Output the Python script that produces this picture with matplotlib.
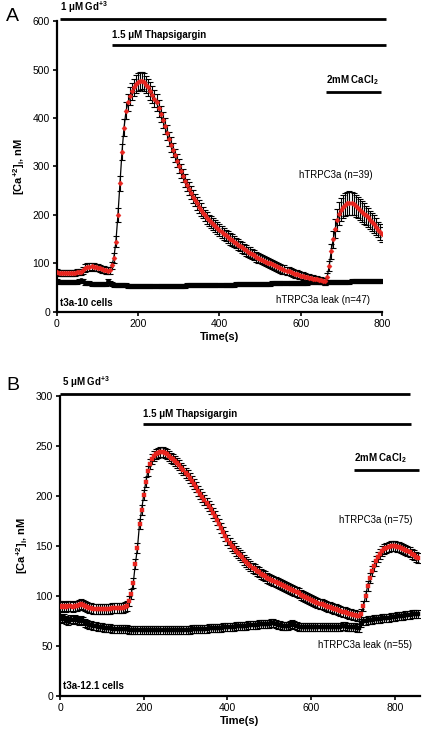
import numpy as np
import matplotlib.pyplot as plt

plt.rcParams['font.family'] = ['Liberation Sans', 'DejaVu Sans']
plt.rcParams['mathtext.fontset'] = 'custom'
plt.rcParams['mathtext.rm'] = 'Liberation Sans'
plt.rcParams['mathtext.bf'] = 'Liberation Sans:bold'
plt.rcParams['mathtext.it'] = 'Liberation Sans:italic'

# ---- Panel A data (5 s sampling, 0..800 s) ----
tA = np.arange(0, 805, 5)
trpc_A = [82, 81, 81, 80, 80, 81, 80, 80, 81, 81,
          82, 82, 83, 86, 90, 93, 93, 94, 93, 92,
          91, 90, 88, 87, 86, 85, 86, 96, 112, 145,
          200, 265, 330, 380, 415, 432, 445, 455, 463, 470,
          474, 476, 477, 474, 469, 463, 456, 448, 440, 432,
          420, 408, 396, 383, 370, 357, 345, 334, 323, 312,
          301, 291, 281, 271, 262, 254, 246, 238, 231, 224,
          217, 211, 205, 199, 194, 189, 185, 181, 177, 173,
          169, 165, 161, 158, 154, 151, 148, 145, 142, 139,
          136, 133, 130, 127, 124, 122, 119, 117, 114, 112,
          110, 108, 106, 104, 102, 100, 98, 96, 94, 92,
          90, 88, 87, 85, 84, 82, 81, 79, 78, 77,
          75, 74, 73, 72, 71, 70, 69, 68, 67, 66,
          65, 64, 63, 72, 95, 125, 150, 172, 190, 203,
          211, 217, 221, 224, 225, 224, 222, 219, 215, 211,
          207, 203, 199, 195, 190, 186, 181, 176, 170, 165,
          160]
trpc_A_err = [6, 6, 6, 6, 6, 6, 6, 6, 6, 6,
              6, 6, 6, 7, 8, 8, 8, 8, 8, 7,
              7, 7, 7, 7, 7, 7, 7, 8, 10, 12,
              14, 16, 17, 18, 18, 18, 18, 18, 18, 18,
              18, 18, 18, 18, 18, 18, 18, 17, 17, 17,
              17, 16, 16, 16, 15, 15, 15, 15, 14, 14,
              14, 14, 14, 14, 13, 13, 13, 13, 13, 13,
              13, 13, 12, 12, 12, 12, 12, 12, 12, 12,
              12, 12, 12, 12, 12, 12, 12, 11, 11, 11,
              11, 11, 11, 11, 11, 11, 10, 10, 10, 10,
              10, 10, 10, 10, 9, 9, 9, 9, 9, 9,
              9, 9, 9, 8, 8, 8, 8, 8, 8, 8,
              8, 8, 7, 7, 7, 7, 7, 7, 7, 7,
              7, 7, 7, 8, 11, 15, 18, 20, 22, 23,
              24, 24, 24, 24, 24, 24, 23, 23, 22, 22,
              21, 21, 20, 20, 19, 19, 18, 17, 16, 16,
              15]
leak_A = [63, 62, 62, 61, 61, 62, 61, 61, 61, 61,
          62, 63, 65, 63, 60, 59, 59, 58, 58, 58,
          58, 57, 57, 57, 58, 63, 60, 57, 56, 56,
          55, 55, 55, 55, 55, 54, 54, 54, 54, 54,
          54, 54, 54, 54, 54, 54, 54, 54, 54, 54,
          54, 54, 54, 54, 54, 54, 54, 54, 54, 54,
          54, 54, 54, 54, 55, 55, 55, 55, 55, 55,
          55, 55, 55, 55, 55, 55, 55, 55, 55, 56,
          56, 56, 56, 56, 56, 56, 56, 56, 57, 57,
          57, 57, 57, 57, 57, 57, 57, 58, 58, 58,
          58, 58, 58, 58, 58, 58, 59, 59, 59, 59,
          59, 59, 59, 59, 59, 60, 60, 60, 60, 60,
          60, 60, 60, 60, 61, 61, 61, 61, 61, 61,
          61, 61, 60, 62, 61, 61, 62, 62, 62, 62,
          62, 62, 62, 62, 62, 63, 63, 63, 63, 63,
          63, 63, 63, 63, 63, 64, 64, 64, 64, 64,
          64]
leak_A_err = 4

# ---- Panel B data (5 s sampling, 0..855 s) ----
tB = np.arange(0, 860, 5)
trpc_B = [90, 89, 90, 89, 90, 90, 89, 90, 90, 91,
          92, 91, 90, 89, 88, 88, 87, 87, 87, 87,
          87, 87, 87, 87, 87, 88, 88, 88, 88, 88,
          88, 89, 90, 95, 102, 113, 132, 148, 172, 186,
          201, 214, 225, 232, 237, 240, 242, 243, 244, 244,
          243, 242, 240, 238, 237, 235, 233, 231, 228, 226,
          223, 221, 218, 215, 212, 209, 205, 202, 199, 196,
          193, 190, 187, 183, 180, 176, 172, 168, 164, 160,
          156, 153, 150, 148, 145, 143, 141, 139, 136, 134,
          132, 130, 128, 127, 125, 124, 122, 121, 120, 118,
          117, 116, 115, 114, 113, 112, 111, 110, 109, 108,
          107, 106, 105, 104, 103, 101, 100, 99, 98, 97,
          96, 95, 94, 93, 92, 92, 91, 90, 89, 89,
          88, 87, 87, 86, 85, 84, 84, 83, 82, 82,
          81, 81, 80, 80, 82, 90, 100, 110, 118, 125,
          130, 135, 139, 142, 145, 147, 148, 149, 150, 150,
          150, 149, 149, 148, 147, 146, 145, 144, 142, 141,
          139, 138]
trpc_B_err = 5
leak_B = [78, 77, 78, 76, 75, 77, 76, 77, 76, 75,
          76, 75, 73, 72, 71, 71, 70, 70, 69, 69,
          69, 68, 68, 68, 68, 67, 67, 67, 67, 67,
          67, 67, 67, 66, 66, 66, 66, 66, 66, 66,
          66, 66, 66, 66, 66, 66, 66, 66, 66, 66,
          66, 66, 66, 66, 66, 66, 66, 66, 66, 66,
          66, 66, 66, 67, 67, 67, 67, 67, 67, 67,
          67, 68, 68, 68, 68, 68, 68, 68, 69, 69,
          69, 69, 69, 69, 70, 70, 70, 70, 70, 70,
          71, 71, 71, 71, 71, 72, 72, 72, 72, 72,
          72, 73, 73, 72, 71, 71, 70, 70, 70, 70,
          71, 72, 71, 70, 69, 69, 69, 69, 69, 69,
          69, 69, 69, 69, 69, 69, 69, 69, 69, 69,
          69, 69, 69, 69, 69, 70, 70, 69, 69, 69,
          69, 69, 68, 68, 73, 75, 75, 76, 76, 76,
          77, 77, 77, 77, 78, 78, 78, 78, 79, 79,
          79, 80, 80, 80, 80, 81, 81, 81, 82, 82,
          82, 82]
leak_B_err = 4

fig = plt.figure(figsize=(4.25, 7.32), dpi=100)

ylab = '[Ca$^{\\mathbf{{+}2}}$]$_{\\mathbf{i}}$, nM'


def style_axes(ax):
    for s in ['top', 'right']:
        ax.spines[s].set_visible(False)
    for s in ['left', 'bottom']:
        ax.spines[s].set_linewidth(1.6)
    ax.tick_params(direction='out', length=3, width=1.2, labelsize=7.5, pad=2)


def draw_trace(ax, t, y, err, mcolor, marker, ms=2.6):
    ax.errorbar(t, y, yerr=err, fmt='none', ecolor='black', elinewidth=0.8,
                capsize=2.0, capthick=0.8, zorder=2)
    ax.plot(t, y, color='black', lw=0.9, zorder=3)
    ax.plot(t, y, linestyle='none', marker=marker, ms=ms, mfc=mcolor,
            mec=mcolor, mew=0.3, zorder=4)


def bar(ax, x0, x1, y, label, ty):
    ax.plot([x0, x1], [y, y], color='black', lw=2.0, clip_on=False,
            solid_capstyle='butt')
    ax.text(x0, ty, label, fontsize=7, fontweight='bold', ha='left',
            va='bottom', clip_on=False)


# ---------------- Panel A ----------------
axA = fig.add_axes([0.1341, 0.5738, 0.7647, 0.3975])
style_axes(axA)
draw_trace(axA, tA, leak_A, leak_A_err, 'black', 'o', ms=3.2)
draw_trace(axA, tA, trpc_A, trpc_A_err, '#e8251f', 'D')
axA.set_xlim(0, 800)
axA.set_ylim(0, 600)
axA.set_xticks([0, 200, 400, 600, 800])
axA.set_yticks([0, 100, 200, 300, 400, 500, 600])
axA.set_xlabel('Time(s)', fontsize=8, fontweight='bold', labelpad=2)
axA.set_ylabel(ylab, fontsize=8, fontweight='bold', labelpad=4)

axA.plot([7, 810], [605, 605], color='black', lw=2.0, clip_on=False,
         solid_capstyle='butt')
axA.text(7, 612, '1 μM Gd$^{\\mathbf{{+}3}}$', fontsize=7,
         fontweight='bold', va='bottom', clip_on=False)
bar(axA, 135, 810, 550, '1.5 μM Thapsigargin', 560)
bar(axA, 662, 797, 453, '2mM CaCl$_{\\mathbf{2}}$', 463)

axA.text(687, 282, 'hTRPC3a (n=39)', fontsize=7, ha='center', va='center')
axA.text(655, 25, 'hTRPC3a leak (n=47)', fontsize=7, ha='center', va='center')
axA.text(8, 19, 't3a-10 cells', fontsize=7, fontweight='bold', va='center')
fig.text(0.015, 0.978, 'A', fontsize=14, va='center')

# ---------------- Panel B ----------------
axB = fig.add_axes([0.1412, 0.0492, 0.847, 0.41])
style_axes(axB)
draw_trace(axB, tB, leak_B, leak_B_err, 'black', 's')
draw_trace(axB, tB, trpc_B, trpc_B_err, '#e8251f', 's')
axB.set_xlim(0, 860)
axB.set_ylim(0, 300)
axB.set_xticks([0, 200, 400, 600, 800])
axB.set_yticks([0, 50, 100, 150, 200, 250, 300])
axB.set_xlabel('Time(s)', fontsize=8, fontweight='bold', labelpad=2)
axB.set_ylabel(ylab, fontsize=8, fontweight='bold', labelpad=4)

axB.plot([0, 835], [302, 302], color='black', lw=2.0, clip_on=False,
         solid_capstyle='butt')
axB.text(5, 306, '5 μM Gd$^{\\mathbf{{+}3}}$', fontsize=7,
         fontweight='bold', va='bottom', clip_on=False)
bar(axB, 199, 838, 272, '1.5 μM Thapsigargin', 277)
bar(axB, 702, 857, 226, '2mM CaCl$_{\\mathbf{2}}$', 231)

axB.text(755, 176, 'hTRPC3a (n=75)', fontsize=7, ha='center', va='center')
axB.text(728, 51, 'hTRPC3a leak (n=55)', fontsize=7, ha='center', va='center')
axB.text(6, 10, 't3a-12.1 cells', fontsize=7, fontweight='bold', va='center')
fig.text(0.015, 0.473, 'B', fontsize=14, va='center')

fig.savefig('out.png', dpi=100)
